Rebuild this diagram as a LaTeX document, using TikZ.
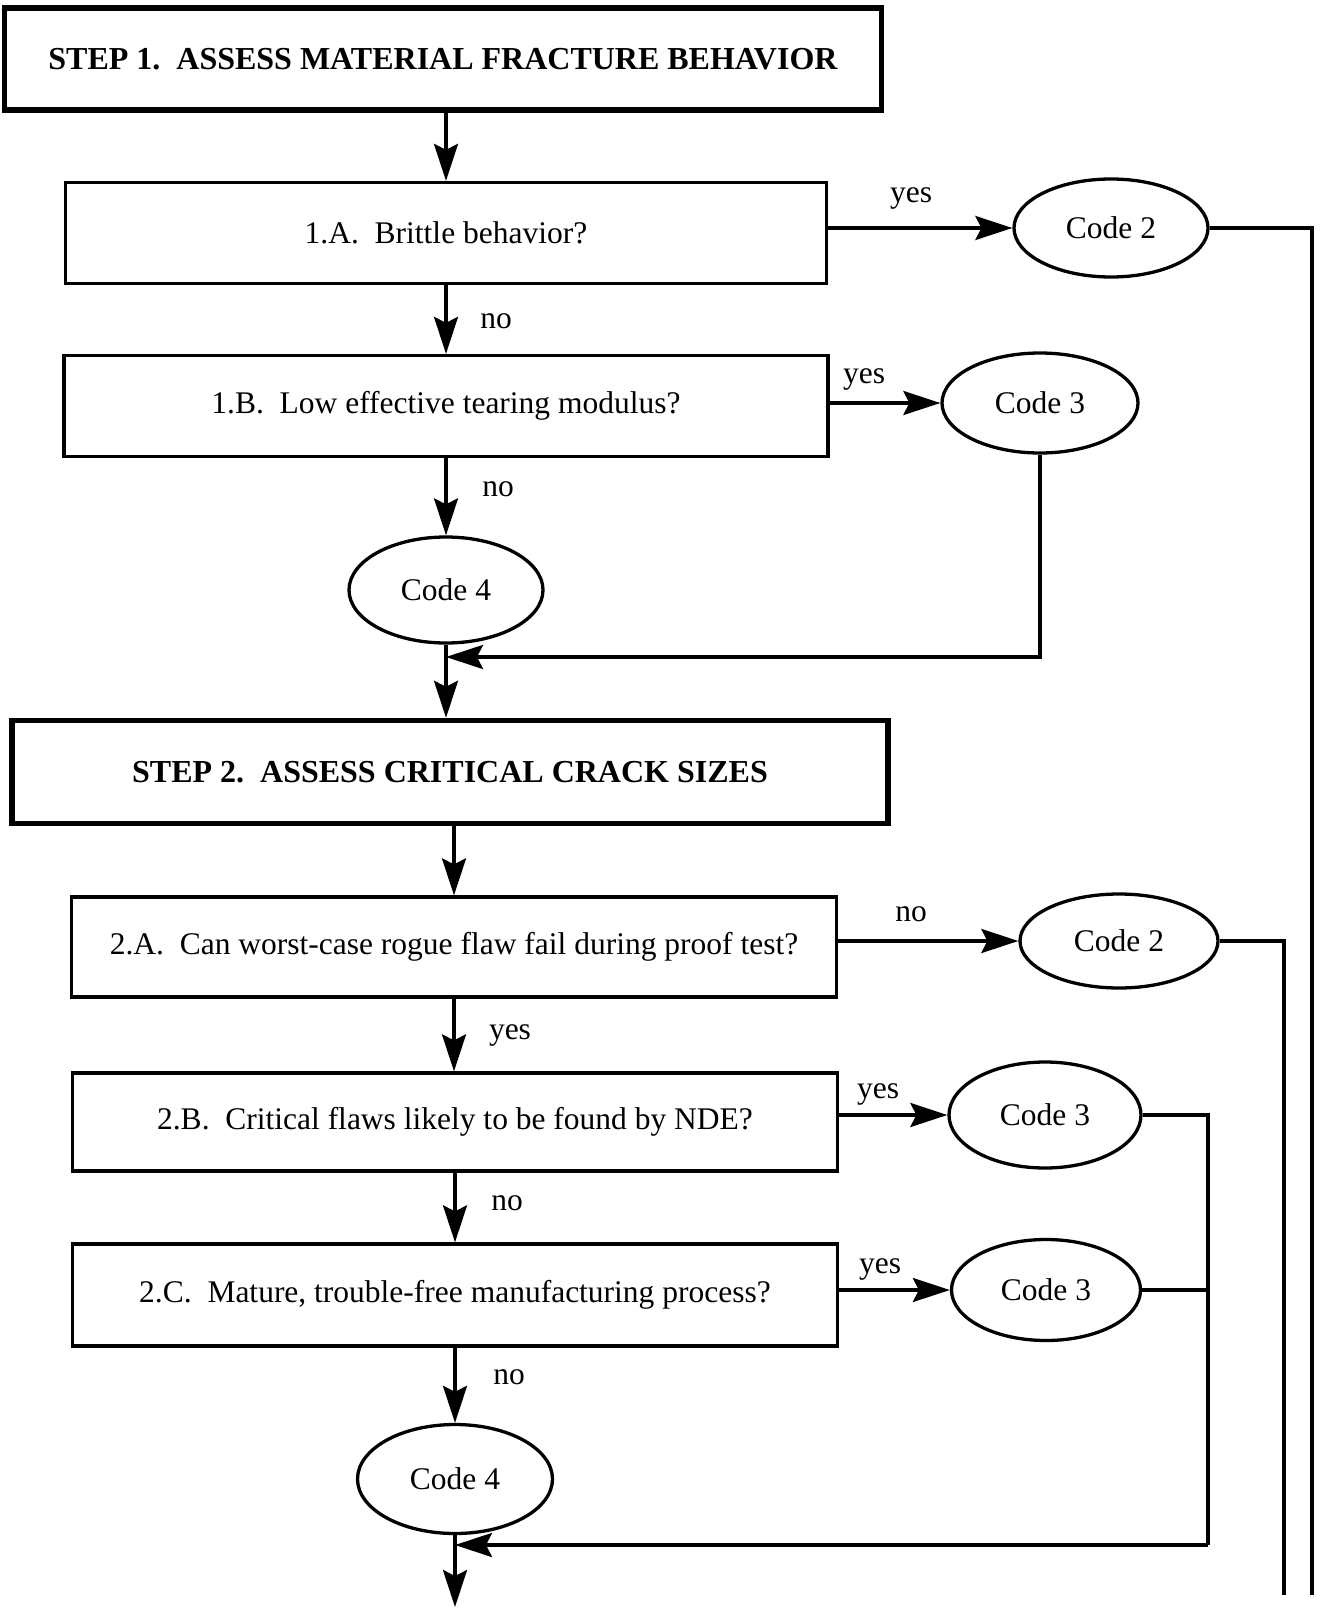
\documentclass[tikz,border=0pt]{standalone}
\usepackage{fontspec}
\setmainfont{Liberation Serif}
\usetikzlibrary{arrows.meta,shapes.geometric}
\begin{document}
\begin{tikzpicture}[x=1pt,y=-1pt,
  every node/.style={font=\fontsize{31.5}{36}\selectfont},
  stepbox/.style={draw,line width=5.5pt,rectangle,inner sep=0pt,font=\fontsize{32}{36}\selectfont\bfseries},
  qbox/.style={draw,line width=3.3pt,rectangle,inner sep=0pt},
  codeell/.style={draw,line width=3.3pt,ellipse,inner sep=0pt},
  conn/.style={line width=3.3pt},
  arr/.style={conn,-{Stealth[length=37pt,width=24pt,inset=6pt]}},
  lbl/.style={inner sep=0pt}
]
\useasboundingbox (0,0) rectangle (1320,1608);

% Step 1
\node[stepbox,minimum width=877pt,minimum height=102pt] (s1) at (443,59) {STEP 1.\enspace ASSESS MATERIAL FRACTURE BEHAVIOR};
\node[qbox,minimum width=761pt,minimum height=101pt] (q1a) at (446,233) {1.A.\enspace Brittle behavior?};
\node[codeell,minimum width=194pt,minimum height=98pt] (c2a) at (1111,228) {Code 2};
\node[qbox,minimum width=764pt,minimum height=101pt] (q1b) at (446,406) {1.B.\enspace Low effective tearing modulus?};
\node[codeell,minimum width=196pt,minimum height=100pt] (c3a) at (1040,403) {Code 3};
\node[codeell,minimum width=194pt,minimum height=106pt] (c4a) at (446,590) {Code 4};

% Step 2
\node[stepbox,minimum width=876pt,minimum height=103pt] (s2) at (450,772) {STEP 2.\enspace ASSESS CRITICAL CRACK SIZES};
\node[qbox,minimum width=765pt,minimum height=100pt] (q2a) at (454,947) {2.A.\enspace Can worst-case rogue flaw fail during proof test?};
\node[codeell,minimum width=198pt,minimum height=94pt] (c2b) at (1119,941) {Code 2};
\node[qbox,minimum width=765pt,minimum height=98pt] (q2b) at (455,1122) {2.B.\enspace Critical flaws likely to be found by NDE?};
\node[codeell,minimum width=192pt,minimum height=106pt] (c3b) at (1045,1115) {Code 3};
\node[qbox,minimum width=765pt,minimum height=102pt] (q2c) at (455,1295) {2.C.\enspace Mature, trouble-free manufacturing process?};
\node[codeell,minimum width=189pt,minimum height=101pt] (c3c) at (1046,1290) {Code 3};
\node[codeell,minimum width=195pt,minimum height=109pt] (c4b) at (455,1479) {Code 4};

% labels
\node[lbl] (l1) at (911,198) {yes};
\node[lbl] (l2) at (496,321) {no};
\node[lbl] (l3) at (864,379) {yes};
\node[lbl] (l4) at (498,489) {no};
\node[lbl] (l5) at (911,914) {no};
\node[lbl] (l6) at (510,1035) {yes};
\node[lbl] (l7) at (878,1094) {yes};
\node[lbl] (l8) at (507,1203) {no};
\node[lbl] (l9) at (880,1269) {yes};
\node[lbl] (l10) at (509,1377) {no};

% coordinates
\coordinate (m1) at (446,657);
\coordinate (e1) at (1312,1595);
\coordinate (e2) at (1284,1595);
\coordinate (b1) at (1208,1545);
\coordinate (m2) at (455,1545);
\coordinate (endp) at (455,1607);

% connectors step 1
\draw[arr] (q1a.north |- s1.south) -- (q1a.north);
\draw[arr] (c2a.west -| q1a.east) -- (c2a.west);
\draw[arr] (q1a.south) -- (q1b.north);
\draw[arr] (c3a.west -| q1b.east) -- (c3a.west);
\draw[arr] (q1b.south) -- (c4a.north);
\draw[arr] (c3a.south) |- (m1);
\draw[arr] (c4a.south) -- (c4a.south |- s2.north);
\draw[conn] (c2a.east) -| (e1);

% connectors step 2
\draw[arr] (q2a.north |- s2.south) -- (q2a.north);
\draw[arr] (c2b.west -| q2a.east) -- (c2b.west);
\draw[conn] (c2b.east) -| (e2);
\draw[arr] (q2a.south) -- (q2a.south |- q2b.north);
\draw[arr] (c3b.west -| q2b.east) -- (c3b.west);
\draw[arr] (q2b.south) -- (q2c.north);
\draw[arr] (c3c.west -| q2c.east) -- (c3c.west);
\draw[arr] (q2c.south) -- (c4b.north);
\draw[conn] (c3b.east) -| (b1);
\draw[conn] (c3c.east) -- (c3c.east -| b1);
\draw[arr] (b1) -- (m2);
\draw[arr] (c4b.south) -- (endp);
\end{tikzpicture}
\end{document}
